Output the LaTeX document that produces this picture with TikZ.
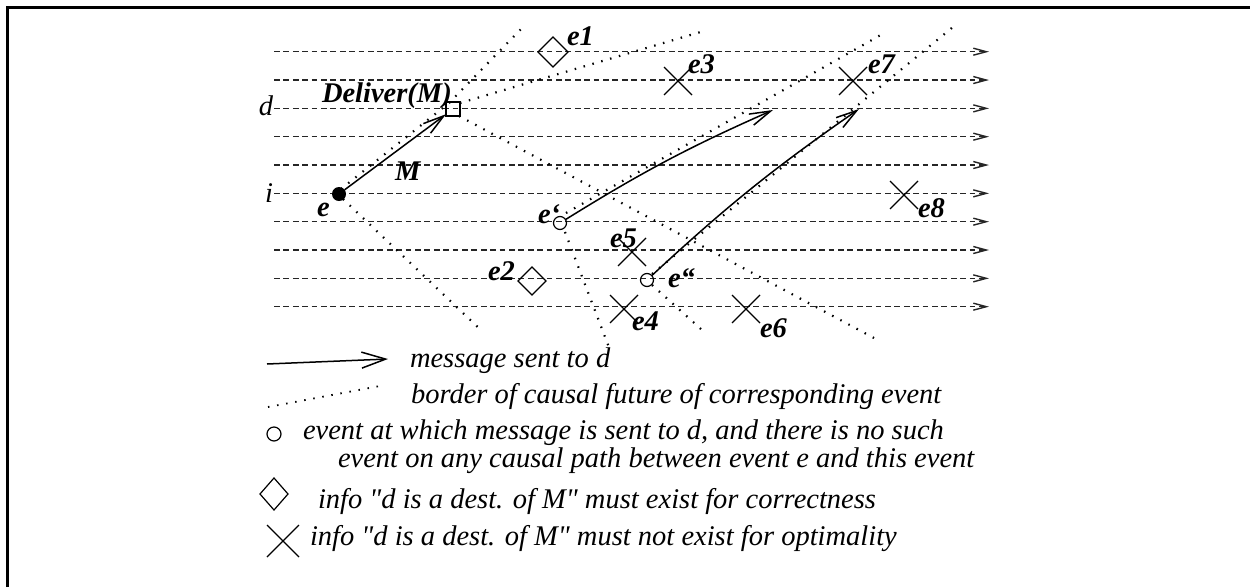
\documentclass[tikz,border=0pt]{standalone}
\usepackage{fontspec}
\setmainfont{Liberation Serif}[Ligatures=TeXOff]
\usetikzlibrary{arrows.meta,shapes.geometric,shapes.misc}
\begin{document}
\begin{tikzpicture}[x=1pt,y=-1pt,
  every node/.style={inner sep=0pt, outer sep=0pt},
  proc/.style={draw=black!85, line width=1.4pt, dash pattern=on 5.8pt off 3.6pt,
    -{Straight Barb[length=13pt,width=7pt]}},
  cone/.style={draw=black, line width=2.2pt, dash pattern=on 1.5pt off 7.7pt},
  msg/.style={draw=black, line width=1.5pt, -{Straight Barb[length=21pt,width=12pt]}},
  lbl/.style={font=\fontsize{28.5}{28.5}\selectfont\bfseries\itshape},
  txt/.style={font=\fontsize{28.5}{28.5}\selectfont\itshape},
  diam/.style={draw, diamond, line width=1.2pt, minimum width=30pt, minimum height=30pt},
  xmark/.style={draw, cross out, line width=1.2pt, minimum size=28pt},
  ocirc/.style={draw, circle, line width=1.2pt, minimum size=13pt},
]
\useasboundingbox (0,0) rectangle (1250,587);
% frame
\draw[line width=3pt] (7.5,587) -- (7.5,7.5) -- (1250,7.5);

% process lines
\foreach \k in {0,...,9}{
  \coordinate (ps\k) at (274,{51.7+28.33*\k});
  \coordinate (pe\k) at (989,{51.7+28.33*\k});
  \draw[proc] (ps\k) -- (pe\k);
}
\node[txt, anchor=base east] (dlab) at (273,115) {d};
\node[txt, anchor=base east] (ilab) at (273,202) {i};

% cone borders
\coordinate (c1a) at (341,189); \coordinate (c1b) at (449,103); \coordinate (c1c) at (523,27);
\coordinate (c2a) at (460,103); \coordinate (c2b) at (704,31);
\coordinate (c3a) at (459,116); \coordinate (c3b) at (874,338);
\coordinate (c4a) at (343,199); \coordinate (c4b) at (483,332);
\coordinate (c5a) at (566,213); \coordinate (c5b) at (886,32);
\coordinate (c6a) at (565,232); \coordinate (c6b) at (610,350);
\coordinate (c7a) at (652,274); \coordinate (c7b) at (953,27);
\coordinate (c8a) at (652,285); \coordinate (c8b) at (702,330);
\draw[cone] (c1a) -- (c1b) -- (c1c);
\draw[cone] (c2a) -- (c2b);
\draw[cone] (c3a) -- (c3b);
\draw[cone] (c4a) -- (c4b);
\draw[cone] (c5a) -- (c5b);
\draw[cone] (c6a) -- (c6b);
\draw[cone] (c7a) -- (c7b);
\draw[cone] (c8a) -- (c8b);

% events
\node[circle, fill=black, minimum size=14pt] (e) at (339,194) {};
\node[draw, line width=1.2pt, minimum size=14pt] (dlv) at (453,109) {};
\node[ocirc] (ep) at (560,223) {};
\node[ocirc] (epp) at (647,280) {};
\coordinate (tp) at (773,110);
\coordinate (tpp) at (859,109);

% messages
\draw[msg] (e) -- (dlv);
\draw[msg] (ep) to[bend left=4] (tp);
\draw[msg] (epp) to[bend left=4] (tpp);

% markers
\node[diam] (e1) at (553,52) {};
\node[diam, minimum width=28pt, minimum height=28pt] (e2) at (532,281) {};
\node[xmark] (e3) at (678,81) {};
\node[xmark] (e4) at (624,309) {};
\node[xmark] (e5) at (632,252) {};
\node[xmark] (e6) at (746,309) {};
\node[xmark] (e7) at (853,81) {};
\node[xmark] (e8) at (904,195) {};

% labels
\node[lbl, anchor=base west] (lDel) at (322,102) {Deliver(M)};
\node[lbl, anchor=base west] (lM) at (395,180) {M};
\node[lbl, anchor=base west] (le) at (317,216) {e};
\node[lbl, anchor=base west] (lep) at (538,223) {e‘};
\node[lbl, anchor=base west] (lepp) at (668,287) {e“};
\node[lbl, anchor=base west] (l1) at (567,45) {e1};
\node[lbl, anchor=base west] (l2) at (488,280) {e2};
\node[lbl, anchor=base west] (l3) at (688,73) {e3};
\node[lbl, anchor=base west] (l4) at (632,330) {e4};
\node[lbl, anchor=base west] (l5) at (610,247) {e5};
\node[lbl, anchor=base west] (l6) at (760,337) {e6};
\node[lbl, anchor=base west] (l7) at (868,73) {e7};
\node[lbl, anchor=base west] (l8) at (918,217) {e8};

% legend
\coordinate (la1) at (267,364); \coordinate (la2) at (388,359);
\draw[msg, -{Straight Barb[length=24pt,width=16pt]}] (la1) -- (la2);
\node[txt, anchor=base west] (t1) at (410,367) {message sent to d};
\coordinate (ld1) at (268,407); \coordinate (ld2) at (380,386);
\draw[cone, line width=1.8pt] (ld1) -- (ld2);
\node[txt, anchor=base west] (t2) at (411,403) {border of causal future of corresponding event};
\node[ocirc, minimum size=14pt] (lc) at (274,434) {};
\node[txt, anchor=base west] (t3) at (303,439) {event at which message is sent to d, and there is no such};
\node[txt, anchor=base west] (t4) at (338,467) {event on any causal path between event e and this event};
\node[diam, minimum width=28pt, minimum height=32pt] (ldm) at (274,494) {};
\node[txt, anchor=base west] (t5) at (318,508) {info "d is a dest. of M" must exist for correctness};
\node[xmark, minimum size=32pt] (lx) at (283,541) {};
\node[txt, anchor=base west] (t6) at (310,545) {info "d is a dest. of M" must not exist for optimality};
\end{tikzpicture}
\end{document}
